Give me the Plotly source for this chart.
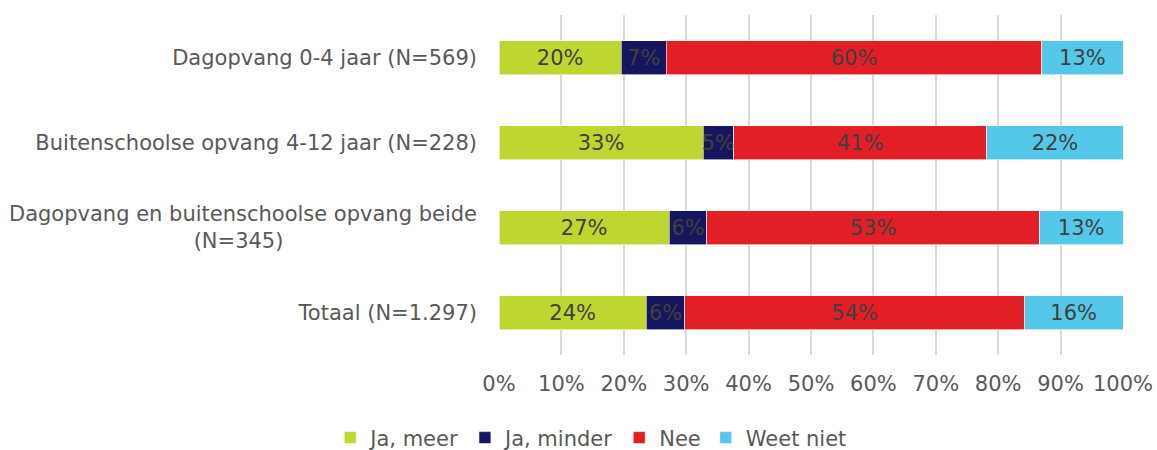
import plotly.graph_objects as go

categories = [
    "Dagopvang 0-4 jaar (N=569)",
    "Buitenschoolse opvang 4-12 jaar (N=228)",
    "Dagopvang en buitenschoolse opvang beide<br>(N=345)" + "\u00a0" * 29,
    "Totaal (N=1.297)",
]
series_names = ["Ja, meer", "Ja, minder", "Nee", "Weet niet"]
ja_meer = [19.6, 32.7, 27.3, 23.6]
ja_minder = [7.2, 4.9, 6.0, 6.2]
nee = [60.2, 40.6, 53.3, 54.4]
weet_niet = [13.0, 21.8, 13.4, 15.8]
colors = ["#BFD630", "#16165E", "#E21E26", "#55C7E8"]
tick_vals = [0, 10, 20, 30, 40, 50, 60, 70, 80, 90, 100]
tick_text = [f"{v}%" for v in tick_vals]

FONT = "DejaVu Sans"
FS = 21
TXT = "#404040"
LBL = "#595959"

fig = go.Figure()
for name, vals, col in zip(series_names, [ja_meer, ja_minder, nee, weet_niet], colors):
    fig.add_trace(go.Bar(
        y=categories, x=vals, name=name, orientation="h",
        marker=dict(color=col, line=dict(color="white", width=0.6)),
        texttemplate="%{x:.0f}%", textposition="inside", textangle=0,
        insidetextanchor="middle", constraintext="none",
        textfont=dict(family=FONT, size=FS, color=TXT),
    ))

fig.update_layout(
    barmode="stack",
    bargap=0.6,
    width=1157, height=450,
    margin=dict(l=499, r=34, t=15, b=95, autoexpand=False),
    paper_bgcolor="white", plot_bgcolor="white",
    font=dict(family=FONT, size=FS, color=LBL),
    uniformtext=dict(minsize=FS, mode="show"),
    showlegend=True,
    legend=dict(
        orientation="h", xref="container", yref="paper",
        x=0.511, xanchor="center", y=-0.244, yanchor="middle",
        font=dict(family=FONT, size=FS, color=LBL),
        traceorder="normal", itemwidth=30,
    ),
    xaxis=dict(
        range=[0, 100], tickvals=tick_vals, ticktext=tick_text,
        showgrid=True, gridcolor="#D9D9D9", gridwidth=1.5,
        zeroline=False, showline=False, ticks="", automargin=False,
        ticklabelstandoff=14,
        tickfont=dict(family=FONT, size=FS, color=LBL),
    ),
    yaxis=dict(
        categoryorder="array", categoryarray=categories,
        autorange="reversed", showgrid=False, zeroline=False,
        showline=False, ticks="", ticklabelstandoff=21, automargin=False,
        tickfont=dict(family=FONT, size=FS, color=LBL),
    ),
)

fig.write_html(
    "out.html",
    config={"displayModeBar": False},
    post_script="document.body.style.margin='0';document.body.style.overflow='hidden';",
)
